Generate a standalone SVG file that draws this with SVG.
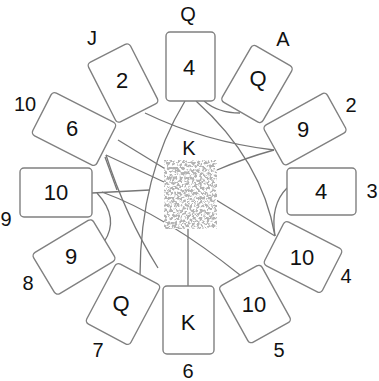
<svg xmlns="http://www.w3.org/2000/svg" width="379" height="381" viewBox="0 0 379 381">
<style>
.card rect{fill:#fff;stroke:#808080;stroke-width:1.4}
.val{font-family:"Liberation Sans",Arial,sans-serif;font-size:22px;fill:#111;text-anchor:middle}
.lbl{font-family:"Liberation Sans",Arial,sans-serif;font-size:20px;fill:#111;text-anchor:middle}
#connectors path{fill:none;stroke:#767676;stroke-width:1.3}
</style>
<defs>
<filter id="speckle" x="0" y="0" width="100%" height="100%">
<feTurbulence type="fractalNoise" baseFrequency="0.4" numOctaves="3" seed="7" result="t"/>
<feColorMatrix in="t" type="matrix" values="0 0 0 0 0.45  0 0 0 0 0.45  0 0 0 0 0.45  -7 0 0 0 3.9" result="c"/>
<feComposite in="c" in2="SourceGraphic" operator="in"/>
</filter>
</defs>
<rect width="379" height="381" fill="#fff"/>
<g id="connectors">
<path d="M145,113 Q205,142 274,150"/>
<path d="M217,170 Q245,158 274,150"/>
<path d="M185,101 Q140,175 140,276"/>
<path d="M196,101 Q262,160 275,236"/>
<path d="M204,101 Q218,113 240,113"/>
<path d="M287,188 Q270,205 275,236"/>
<path d="M118,140 L275,236"/>
<path d="M188,229 L188,286"/>
<path d="M106,155 L164,182"/>
<path d="M102,192 Q165,215 240,275"/>
<path d="M106,155 Q125,215 158,268"/>
<path d="M105,157 L117,190"/>
<path d="M92,193 L150,190"/>
<path d="M97,193 Q120,218 104,242"/>
</g>
<g id="center">
<text class="lbl" x="189" y="155">K</text>
<rect x="164" y="160" width="53" height="69" fill="#fff"/>
<rect x="164" y="160" width="53" height="69" fill="#000" filter="url(#speckle)"/>
</g>
<g id="card-Q" class="card"><rect x="166" y="32" width="49" height="69" rx="4"/><text class="val" x="189" y="75">4</text><text class="lbl" x="188" y="21">Q</text></g>
<g id="card-J" class="card"><rect x="-23.5" y="-33.5" width="47" height="67" rx="4" transform="translate(123,83) rotate(-27)"/><text class="val" x="122" y="88">2</text><text class="lbl" x="92" y="45">J</text></g>
<g id="card-10" class="card"><rect x="-36" y="-24" width="72" height="48" rx="4" transform="translate(74,129) rotate(27)"/><text class="val" x="72" y="136">6</text><text class="lbl" x="25" y="111">10</text></g>
<g id="card-9" class="card"><rect x="20" y="168" width="72" height="49" rx="4"/><text class="val" x="56" y="200">10</text><text class="lbl" x="6" y="226">9</text></g>
<g id="card-8" class="card"><rect x="-35" y="-24" width="70" height="48" rx="4" transform="translate(74,257) rotate(-31)"/><text class="val" x="71" y="264">9</text><text class="lbl" x="28" y="290">8</text></g>
<g id="card-7" class="card"><rect x="-25" y="-34" width="50" height="68" rx="4" transform="translate(123,304) rotate(28)"/><text class="val" x="121" y="311">Q</text><text class="lbl" x="98" y="357">7</text></g>
<g id="card-6" class="card"><rect x="163" y="286" width="51" height="68" rx="4"/><text class="val" x="188" y="330">K</text><text class="lbl" x="188" y="378">6</text></g>
<g id="card-5" class="card"><rect x="-24" y="-32.5" width="48" height="65" rx="4" transform="translate(255,304) rotate(-29)"/><text class="val" x="254" y="312">10</text><text class="lbl" x="279" y="357">5</text></g>
<g id="card-4" class="card"><rect x="-32.5" y="-24.5" width="65" height="49" rx="4" transform="translate(303,257) rotate(27)"/><text class="val" x="302" y="265">10</text><text class="lbl" x="346" y="283">4</text></g>
<g id="card-3" class="card"><rect x="287" y="168" width="69" height="47" rx="4"/><text class="val" x="321" y="199">4</text><text class="lbl" x="372" y="198">3</text></g>
<g id="card-2" class="card"><rect x="-36" y="-22.5" width="72" height="45" rx="4" transform="translate(305,129) rotate(-29)"/><text class="val" x="303" y="137">9</text><text class="lbl" x="351" y="112">2</text></g>
<g id="card-A" class="card"><rect x="-23.5" y="-32.5" width="47" height="65" rx="4" transform="translate(257,84) rotate(30)"/><text class="val" x="258" y="86">Q</text><text class="lbl" x="283" y="46">A</text></g>
</svg>
